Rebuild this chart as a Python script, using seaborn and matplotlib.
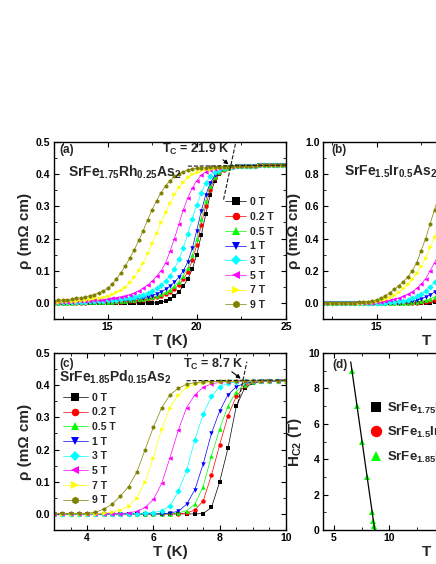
import numpy as np
import matplotlib
matplotlib.use('Agg')
import matplotlib.pyplot as plt
import seaborn as sns
from matplotlib.ticker import MultipleLocator

# 磁场和样式
fields = ['0 T', '0.2 T', '0.5 T', '1 T', '3 T', '5 T', '7 T', '9 T']
colors = ['#000000', '#FF0000', '#00FF00', '#0000FF', '#00FFFF', '#FF00FF', '#FFFF00', '#808000']
markers = ['s', 'o', '^', 'v', 'D', '<', '>', 'h']

# (a) SrFe1.75Rh0.25As2
T_a = [12.0, 12.25, 12.5, 12.75, 13.0, 13.25, 13.5, 13.75, 14.0, 14.25, 14.5, 14.75,
       15.0, 15.25, 15.5, 15.75, 16.0, 16.25, 16.5, 16.75, 17.0, 17.25, 17.5, 17.75,
       18.0, 18.25, 18.5, 18.75, 19.0, 19.25, 19.5, 19.75, 20.0, 20.25, 20.5, 20.75,
       21.0, 21.25, 21.5, 21.75, 22.0, 22.25, 22.5, 22.75, 23.0, 23.25, 23.5, 23.75,
       24.0, 24.25, 24.5, 24.75, 25.0]
normal_a = [0.424, 0.425, 0.425, 0.426, 0.426, 0.427, 0.427, 0.428, 0.428, 0.429, 0.429, 0.430]
rho_a_0T = [0.0, 0.0, 0.0, 0.0, 0.0, 0.0, 0.0, 0.0, 0.0, 0.0, 0.0, 0.0,
            0.0, 0.0, 0.0, 0.0, 0.0, 0.0, 0.0, 0.0, 0.0, 0.0, 0.0, 0.0,
            0.002, 0.006, 0.012, 0.022, 0.035, 0.052, 0.075, 0.105, 0.150, 0.210, 0.275, 0.335,
            0.378, 0.402, 0.413, 0.419, 0.422] + normal_a
rho_a_02T = [0.000, 0.000, 0.001, 0.001, 0.001, 0.001, 0.001, 0.001, 0.002, 0.002, 0.002, 0.002,
             0.003, 0.003, 0.004, 0.004, 0.005, 0.006, 0.007, 0.008, 0.010, 0.012, 0.015, 0.018,
             0.022, 0.027, 0.034, 0.044, 0.056, 0.073, 0.097, 0.132, 0.180, 0.242, 0.302, 0.352,
             0.387, 0.405, 0.414, 0.419, 0.422] + normal_a
rho_a_05T = [0.001, 0.001, 0.001, 0.001, 0.001, 0.002, 0.002, 0.002, 0.002, 0.003, 0.003, 0.003,
             0.004, 0.004, 0.005, 0.006, 0.007, 0.008, 0.009, 0.011, 0.013, 0.015, 0.018, 0.022,
             0.027, 0.033, 0.041, 0.052, 0.066, 0.084, 0.110, 0.148, 0.200, 0.262, 0.318, 0.362,
             0.391, 0.407, 0.415, 0.420, 0.423] + normal_a
rho_a_1T = [0.001, 0.001, 0.001, 0.002, 0.002, 0.002, 0.002, 0.003, 0.003, 0.003, 0.004, 0.004,
            0.005, 0.006, 0.007, 0.008, 0.009, 0.010, 0.012, 0.014, 0.016, 0.019, 0.023, 0.028,
            0.034, 0.042, 0.052, 0.065, 0.080, 0.100, 0.128, 0.170, 0.225, 0.285, 0.335, 0.372,
            0.396, 0.409, 0.416, 0.420, 0.423] + normal_a
rho_a_3T = [0.002, 0.002, 0.002, 0.003, 0.003, 0.003, 0.004, 0.004, 0.005, 0.005, 0.006, 0.007,
            0.008, 0.009, 0.010, 0.012, 0.014, 0.016, 0.019, 0.022, 0.026, 0.031, 0.037, 0.045,
            0.055, 0.068, 0.085, 0.106, 0.135, 0.172, 0.215, 0.262, 0.305, 0.342, 0.372, 0.394,
            0.407, 0.414, 0.418, 0.421, 0.423] + normal_a
rho_a_5T = [0.003, 0.003, 0.003, 0.004, 0.004, 0.005, 0.005, 0.006, 0.007, 0.008, 0.009, 0.010,
            0.012, 0.014, 0.016, 0.019, 0.022, 0.026, 0.031, 0.038, 0.046, 0.056, 0.068, 0.083,
            0.100, 0.124, 0.160, 0.200, 0.245, 0.290, 0.327, 0.357, 0.380, 0.397, 0.407, 0.413,
            0.417, 0.419, 0.421, 0.422, 0.423] + normal_a
rho_a_7T = [0.004, 0.004, 0.005, 0.005, 0.006, 0.007, 0.008, 0.010, 0.012, 0.014, 0.016, 0.019,
            0.022, 0.027, 0.033, 0.041, 0.050, 0.064, 0.080, 0.101, 0.125, 0.154, 0.185, 0.218,
            0.250, 0.282, 0.310, 0.337, 0.360, 0.377, 0.390, 0.400, 0.407, 0.412, 0.415, 0.417,
            0.419, 0.420, 0.421, 0.422, 0.423] + normal_a
rho_a_9T = [0.007, 0.008, 0.009, 0.010, 0.012, 0.014, 0.016, 0.019, 0.022, 0.026, 0.031, 0.037,
            0.045, 0.058, 0.075, 0.094, 0.115, 0.139, 0.165, 0.194, 0.225, 0.258, 0.290, 0.318,
            0.343, 0.363, 0.380, 0.393, 0.402, 0.408, 0.413, 0.416, 0.418, 0.419, 0.420, 0.421,
            0.422, 0.422, 0.423, 0.423, 0.424] + normal_a
rho_a = [rho_a_0T, rho_a_02T, rho_a_05T, rho_a_1T, rho_a_3T, rho_a_5T, rho_a_7T, rho_a_9T]

# (b) SrFe1.5Ir0.5As2 (只看得到低温一段)
T_b = [12.0, 12.25, 12.5, 12.75, 13.0, 13.25, 13.5, 13.75, 14.0, 14.25, 14.5, 14.75,
       15.0, 15.25, 15.5, 15.75, 16.0, 16.25, 16.5, 16.75, 17.0, 17.25, 17.5, 17.75,
       18.0, 18.25, 18.5]
rho_b_0T = [0.0] * 24 + [0.002, 0.004, 0.008]
rho_b_02T = [0.0] * 21 + [0.002, 0.004, 0.006, 0.010, 0.016, 0.025]
rho_b_05T = [0.0] * 19 + [0.002, 0.004, 0.007, 0.010, 0.016, 0.025, 0.036, 0.050]
rho_b_1T = [0.001] * 17 + [0.002, 0.004, 0.007, 0.010, 0.016, 0.025, 0.036, 0.050, 0.068, 0.090]
rho_b_3T = [0.001] * 15 + [0.003, 0.006, 0.009, 0.014, 0.020, 0.028, 0.040, 0.055, 0.075, 0.100,
                           0.128, 0.160]
rho_b_5T = [0.001] * 11 + [0.002, 0.004, 0.006, 0.010, 0.015, 0.022, 0.030, 0.040, 0.053, 0.070,
                           0.090, 0.118, 0.150, 0.200, 0.250, 0.310]
rho_b_7T = [0.001] * 9 + [0.002, 0.003, 0.006, 0.010, 0.016, 0.026, 0.038, 0.052, 0.068, 0.090,
                          0.120, 0.150, 0.185, 0.230, 0.280, 0.345, 0.410, 0.480]
rho_b_9T = [0.002] * 8 + [0.003, 0.004, 0.007, 0.012, 0.019, 0.029, 0.045, 0.064, 0.085, 0.107,
                          0.132, 0.162, 0.198, 0.250, 0.325, 0.400, 0.490, 0.580, 0.670]
rho_b = [rho_b_0T, rho_b_02T, rho_b_05T, rho_b_1T, rho_b_3T, rho_b_5T, rho_b_7T, rho_b_9T]

# (c) SrFe1.85Pd0.15As2
T_c = [3.0, 3.25, 3.5, 3.75, 4.0, 4.25, 4.5, 4.75, 5.0, 5.25, 5.5, 5.75, 6.0, 6.25, 6.5,
       6.75, 7.0, 7.25, 7.5, 7.75, 8.0, 8.25, 8.5, 8.75, 9.0, 9.25, 9.5, 9.75, 10.0]
rho_c_0T = [0.0] * 18 + [0.001, 0.020, 0.100, 0.205, 0.335, 0.390, 0.407, 0.411, 0.412, 0.413, 0.414]
rho_c_02T = [0.0] * 16 + [0.003, 0.012, 0.040, 0.120, 0.215, 0.305, 0.365, 0.398, 0.409, 0.412,
                          0.413, 0.413, 0.414]
rho_c_05T = [0.0] * 15 + [0.003, 0.010, 0.030, 0.085, 0.180, 0.265, 0.335, 0.380, 0.402, 0.410,
                          0.412, 0.413, 0.413, 0.414]
rho_c_1T = [0.0] * 14 + [0.003, 0.008, 0.030, 0.075, 0.155, 0.250, 0.320, 0.370, 0.395, 0.406,
                         0.410, 0.412, 0.413, 0.413, 0.414]
rho_c_3T = [0.001] * 11 + [0.002, 0.004, 0.010, 0.025, 0.070, 0.135, 0.230, 0.310, 0.365, 0.395,
                           0.406, 0.410, 0.412, 0.412, 0.413, 0.413, 0.414, 0.414]
rho_c_5T = [0.001] * 9 + [0.003, 0.008, 0.020, 0.045, 0.095, 0.175, 0.260, 0.330, 0.370, 0.393,
                          0.404, 0.409, 0.411, 0.412, 0.412, 0.413, 0.413, 0.413, 0.414, 0.414]
rho_c_7T = [0.001] * 6 + [0.003, 0.006, 0.012, 0.025, 0.050, 0.100, 0.175, 0.265, 0.330, 0.370,
                          0.393, 0.403, 0.408, 0.410, 0.411, 0.412, 0.412, 0.413, 0.413, 0.413,
                          0.414, 0.414, 0.414]
rho_c_9T = [0.002] * 5 + [0.005, 0.015, 0.030, 0.055, 0.085, 0.130, 0.200, 0.270, 0.330, 0.370,
                          0.390, 0.403, 0.408, 0.410, 0.411, 0.412, 0.412, 0.413, 0.413, 0.413,
                          0.414, 0.414, 0.414, 0.415]
rho_c = [rho_c_0T, rho_c_02T, rho_c_05T, rho_c_1T, rho_c_3T, rho_c_5T, rho_c_7T, rho_c_9T]

# Tc 辅助线
norm_a_T = [19.5, 25.0]
norm_a_rho = [0.425, 0.428]
tan_a_T = [21.5, 22.2]
tan_a_rho = [0.321, 0.503]
norm_c_T = [7.0, 10.0]
norm_c_rho = [0.414, 0.416]
tan_c_T = [8.55, 8.82]
tan_c_rho = [0.343, 0.473]

# (d) Hc2 - T
H_d = [0, 0.2, 0.5, 1, 3, 5, 7, 9]
Tc_Rh = [21.9, 21.8, 21.7, 21.6, 21.2, 20.8, 20.4, 19.9]
Tc_Pd = [8.7, 8.62, 8.55, 8.45, 8.0, 7.55, 7.1, 6.6]
fit_H = [0, 9.5]

sns.set_theme(style='ticks')
plt.rcParams['font.family'] = ['Liberation Sans', 'DejaVu Sans']
plt.rcParams.update({
    'font.weight': 'bold', 'axes.labelweight': 'bold', 'mathtext.default': 'regular',
    'xtick.direction': 'in', 'ytick.direction': 'in', 'xtick.top': True, 'ytick.right': True,
    'xtick.major.size': 3.5, 'ytick.major.size': 3.5, 'xtick.minor.size': 2, 'ytick.minor.size': 2,
    'xtick.major.width': 0.8, 'ytick.major.width': 0.8, 'xtick.minor.width': 0.6,
    'ytick.minor.width': 0.6, 'axes.linewidth': 1.0, 'axes.edgecolor': 'black',
    'xtick.color': 'black', 'ytick.color': 'black', 'xtick.labelsize': 7.5, 'ytick.labelsize': 7.5,
    'axes.labelsize': 11, 'xtick.major.pad': 2.5, 'ytick.major.pad': 2.5,
})

fig = plt.figure(figsize=(4.36, 5.64), dpi=100)


def box(l, t, r, b):
    return [l / 436, 1 - b / 564, (r - l) / 436, (b - t) / 564]


ax_a = fig.add_axes(box(54, 142, 286, 319))
ax_b = fig.add_axes(box(323, 142, 555, 319))
ax_c = fig.add_axes(box(54, 353, 286, 530))
ax_d = fig.add_axes(box(323, 353, 555, 530))


def draw_curves(ax, T, curves):
    for lab, rho, c, m in zip(fields, curves, colors, markers):
        sns.lineplot(x=T, y=rho, ax=ax, color=c, marker=m, markersize=3.2, linewidth=0.5,
                     markeredgewidth=0, label=lab, legend=False, sort=False)


def style_axes(ax, xlim, ylim, xmaj, xmin, ymaj, ymin, yfmt='%.1f'):
    ax.set_xlim(*xlim)
    ax.set_ylim(*ylim)
    ax.xaxis.set_major_locator(MultipleLocator(xmaj))
    ax.xaxis.set_minor_locator(MultipleLocator(xmin))
    ax.yaxis.set_major_locator(MultipleLocator(ymaj))
    ax.yaxis.set_minor_locator(MultipleLocator(ymin))
    ax.yaxis.set_major_formatter(matplotlib.ticker.FormatStrFormatter(yfmt))
    ax.tick_params(which='both', top=True, right=True, direction='in')
    for lab in ax.get_xticklabels() + ax.get_yticklabels():
        lab.set_fontweight('bold')


# (a)
draw_curves(ax_a, T_a, rho_a)
ax_a.plot(norm_a_T, norm_a_rho, 'k--', lw=0.8)
ax_a.plot(tan_a_T, tan_a_rho, 'k--', lw=0.8)
style_axes(ax_a, (12, 25), (-0.05, 0.5), 5, 2.5, 0.1, 0.05)
ax_a.set_xlabel('T (K)', labelpad=1)
ax_a.set_ylabel('ρ (mΩ cm)', labelpad=3)
ax_a.text(0.025, 0.955, '(a)', transform=ax_a.transAxes, fontsize=8.5, fontweight='bold', va='center')
ax_a.text(0.06, 0.83, 'SrFe$_{1.75}$Rh$_{0.25}$As$_2$', transform=ax_a.transAxes, fontsize=10,
          fontweight='bold', va='center')
ax_a.text(18.05, 0.478, 'T$_C$ = 21.9 K', fontsize=9, fontweight='bold', va='center')
ax_a.annotate('', xy=(21.9, 0.425), xytext=(21.35, 0.45),
              arrowprops=dict(arrowstyle='-|>', color='black', lw=0.8, mutation_scale=6))
ax_a.legend(loc='upper left', bbox_to_anchor=(0.72, 0.712), frameon=False, borderaxespad=0,
            handlelength=2.0, handletextpad=0.4, labelspacing=0.45, markerscale=1.7,
            prop={'weight': 'bold', 'size': 7.5})

# (b)
draw_curves(ax_b, T_b, rho_b)
style_axes(ax_b, (12, 25), (-0.1, 1.0), 5, 2.5, 0.2, 0.1)
ax_b.set_xlabel('T (K)', labelpad=1)
ax_b.set_ylabel('ρ (mΩ cm)', labelpad=3)
ax_b.text(0.035, 0.955, '(b)', transform=ax_b.transAxes, fontsize=8.5, fontweight='bold', va='center')
ax_b.text(0.09, 0.83, 'SrFe$_{1.5}$Ir$_{0.5}$As$_2$', transform=ax_b.transAxes, fontsize=10,
          fontweight='bold', va='center')

# (c)
draw_curves(ax_c, T_c, rho_c)
ax_c.plot(norm_c_T, norm_c_rho, 'k--', lw=0.8)
ax_c.plot(tan_c_T, tan_c_rho, 'k--', lw=0.8)
style_axes(ax_c, (3, 10), (-0.05, 0.5), 2, 0.5, 0.1, 0.05)
ax_c.set_xlabel('T (K)', labelpad=1)
ax_c.set_ylabel('ρ (mΩ cm)', labelpad=3)
ax_c.text(0.025, 0.94, '(c)', transform=ax_c.transAxes, fontsize=8.5, fontweight='bold', va='center')
ax_c.text(0.02, 0.86, 'SrFe$_{1.85}$Pd$_{0.15}$As$_2$', transform=ax_c.transAxes, fontsize=10,
          fontweight='bold', va='center')
ax_c.text(6.9, 0.465, 'T$_C$ = 8.7 K', fontsize=9, fontweight='bold', va='center')
ax_c.annotate('', xy=(8.7, 0.415), xytext=(8.3, 0.447),
              arrowprops=dict(arrowstyle='-|>', color='black', lw=0.8, mutation_scale=6))
ax_c.legend(loc='upper left', bbox_to_anchor=(0.02, 0.80), frameon=False, borderaxespad=0,
            handlelength=2.4, handletextpad=0.4, labelspacing=0.45, markerscale=1.7,
            prop={'weight': 'bold', 'size': 7.5})

# (d)
sns.lineplot(x=Tc_Rh, y=H_d, ax=ax_d, color='black', marker='s', markersize=4, linewidth=0,
             markeredgewidth=0, label='SrFe$_{1.75}$Rh$_{0.25}$As$_2$', legend=False, sort=False)
ax_d.plot([], [], color='red', marker='o', markersize=4, linewidth=0,
          label='SrFe$_{1.5}$Ir$_{0.5}$As$_2$')
sns.lineplot(x=Tc_Pd, y=H_d, ax=ax_d, color='#00FF00', marker='^', markersize=4, linewidth=0,
             markeredgewidth=0, label='SrFe$_{1.85}$Pd$_{0.15}$As$_2$', legend=False, sort=False)
coef = np.polyfit(H_d, Tc_Pd, 1)
fit_T = np.polyval(coef, fit_H)
ax_d.plot(fit_T, fit_H, color='black', lw=0.9)
style_axes(ax_d, (4, 25), (0, 10), 5, 2.5, 2, 1, yfmt='%d')
ax_d.set_xlabel('T (K)', labelpad=1)
ax_d.set_ylabel('H$_{C2}$ (T)', labelpad=3)
ax_d.text(0.04, 0.93, '(d)', transform=ax_d.transAxes, fontsize=8.5, fontweight='bold', va='center')
ax_d.legend(loc='upper left', bbox_to_anchor=(0.185, 0.76), frameon=False, borderaxespad=0,
            handlelength=0.8, handletextpad=0.4, labelspacing=0.7, markerscale=1.8,
            prop={'weight': 'bold', 'size': 9.5})

fig.savefig('out.png', dpi=100)
